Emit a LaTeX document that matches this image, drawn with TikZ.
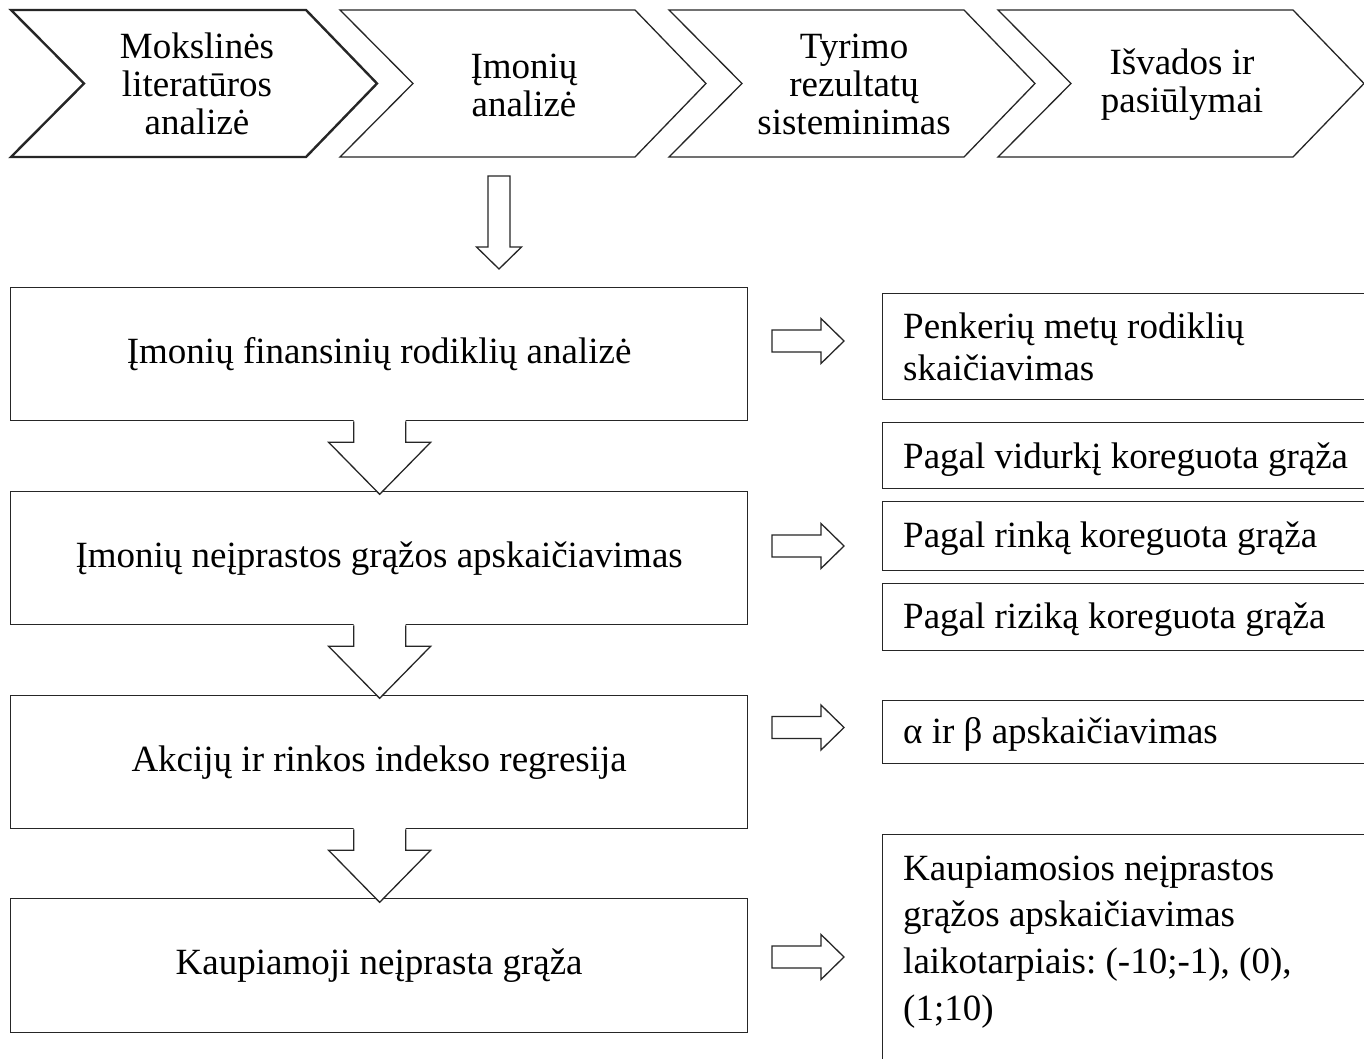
\documentclass[tikz,border=0pt]{standalone}
\usepackage{fontspec}
\setmainfont{Liberation Serif}
\begin{document}
\begin{tikzpicture}[x=1pt,y=-1pt,
  ln/.style={draw=black!85, line width=1.3pt, line join=miter},
  lbox/.style={ln, fill=white, rectangle, inner sep=0pt, anchor=north west,
    minimum width=737pt, minimum height=133pt, align=center,
    font=\fontsize{37}{42}\selectfont},
  rbox/.style={ln, fill=white, rectangle, inner sep=0pt, anchor=north west,
    minimum width=520pt},
  rtext/.style={align=flush left, text width=460pt, anchor=base west, inner sep=0pt},
  chtext/.style={align=center, inner sep=0pt, font=\fontsize{37}{38}\selectfont},
  chev/.style={ln, fill=white},
  rarrow/.pic={\path[ln, fill=white] (0,-11) -- (49,-11) -- (49,-22.5) -- (72,0) -- (49,22.5) -- (49,11) -- (0,11) -- cycle;},
  darrowsmall/.pic={\path[ln, fill=white] (-11,0) -- (11,0) -- (11,71) -- (22.5,71) -- (0,93) -- (-22.5,71) -- (-11,71) -- cycle;},
  darrowbig/.pic={\fill[white] (-26,-3) -- (26,-3) -- (26,21) -- (51,21) -- (0,73) -- (-51,21) -- (-26,21) -- cycle;
    \draw[ln] (-26,0) -- (-26,21) -- (-51,21) -- (0,73) -- (51,21) -- (26,21) -- (26,0);}
]
\useasboundingbox (0,0) rectangle (1364,1059);
\fill[white] (0,0) rectangle (1364,1059);
\clip (0,0) rectangle (1364,1059);

% chevrons
\draw[chev, line width=2.4pt] (11,10) -- (306,10) -- (377,83.5) -- (306,157) -- (11,157) -- (84,83.5) -- cycle;
\foreach \xo in {340,669,998}{
  \draw[chev] (\xo,10) -- ({\xo+295},10) -- ({\xo+366},83.5) -- ({\xo+295},157) -- (\xo,157) -- ({\xo+73},83.5) -- cycle;
}
\node[chtext] (c1) at (197,84) {Mokslinės\\literatūros\\analizė};
\node[chtext] (c2) at (524,85) {Įmonių\\analizė};
\node[chtext] (c3) at (854,84) {Tyrimo\\rezultatų\\sisteminimas};
\node[chtext] (c4) at (1182,85) {Išvados ir\\pasiūlymai};

% arrow from chevrons to first box
\pic at (499,176) {darrowsmall};

% left boxes
\node[lbox] (b1) at (10,287) {Įmonių finansinių rodiklių analizė};
\node[lbox] (b2) at (10,491) {Įmonių neįprastos grąžos apskaičiavimas};
\node[lbox] (b3) at (10,695) {Akcijų ir rinkos indekso regresija};
\node[lbox, minimum height=134pt] (b4) at (10,898) {Kaupiamoji neįprasta grąža};

% down arrows between boxes
\pic at ([xshift=0.5pt]b1.south) {darrowbig};
\pic at ([xshift=0.5pt]b2.south) {darrowbig};
\pic at ([xshift=0.5pt]b3.south) {darrowbig};

% right arrows
\pic at (772,341) {rarrow};
\pic at (772,546) {rarrow};
\pic at (772,727.5) {rarrow};
\pic at (772,957) {rarrow};

% right boxes
\begin{scope}[font=\fontsize{37}{42}\selectfont]
\node[rbox, minimum height=106pt] (r1) at (882,293) {};
\node[rtext] (r1t) at (903,338) {Penkerių metų rodiklių\\skaičiavimas};
\node[rbox, minimum height=66pt] (r2) at (882,422) {};
\node[rtext] (r2t) at (903,468) {Pagal vidurkį koreguota grąža};
\node[rbox, minimum height=69pt] (r3) at (882,501) {};
\node[rtext] (r3t) at (903,547) {Pagal rinką koreguota grąža};
\node[rbox, minimum height=67pt] (r4) at (882,583) {};
\node[rtext] (r4t) at (903,628) {Pagal riziką koreguota grąža};
\node[rbox, minimum height=63pt] (r5) at (882,700) {};
\node[rtext] (r5t) at (903,743) {α ir β apskaičiavimas};
\node[rbox, minimum height=260pt] (r6) at (882,834) {};
\node[rtext, font=\fontsize{37}{46.7}\selectfont] (r6t) at (903,880) {Kaupiamosios neįprastos\\grąžos apskaičiavimas\\laikotarpiais:\ (-10;-1), (0),\\(1;10)};
\end{scope}
\end{tikzpicture}
\end{document}
